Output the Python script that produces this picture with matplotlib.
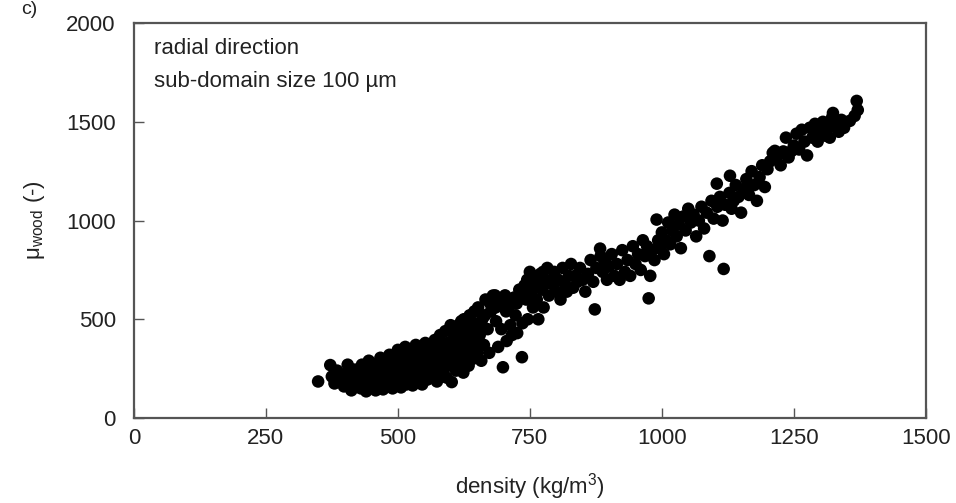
import matplotlib
matplotlib.use('Agg')
import matplotlib.pyplot as plt

plt.rcParams['font.family'] = ['Liberation Sans', 'DejaVu Sans']
plt.rcParams['mathtext.fontset'] = 'custom'
plt.rcParams['mathtext.rm'] = 'Liberation Sans'
plt.rcParams['mathtext.it'] = 'Liberation Sans:italic'

# densité (kg/m3) et mu_wood (-), par tranches de densité
density = [
    # 349-420
    349, 372, 375, 380, 385, 392, 398, 402, 405, 410, 412, 415, 418, 420,
    # 420-490
    425, 428, 430, 432, 435, 438, 440, 442, 445, 447, 450, 452, 455, 458,
    460, 462, 465, 467, 470, 472, 475, 477, 480, 482, 484, 486, 488, 490,
    # 490-560
    492, 494, 496, 498, 500, 502, 504, 506, 508, 510, 512, 514, 516, 518,
    520, 522, 524, 526, 528, 530, 532, 534, 536, 538, 540, 542, 544, 546,
    548, 550, 552, 554, 556, 558, 560,
    # 560-650
    562, 564, 566, 568, 570, 572, 574, 576, 578, 580, 582, 584, 586, 588,
    590, 592, 594, 596, 598, 600, 602, 604, 606, 608, 610, 612, 614, 616,
    618, 620, 622, 624, 626, 628, 630, 632, 634, 636, 638, 640, 642, 645,
    648, 650, 605, 615, 625, 635, 645,
    # 650-760
    652, 655, 658, 660, 663, 666, 670, 673, 676, 680, 684, 686, 690, 693,
    696, 699, 703, 706, 710, 713, 716, 720, 723, 726, 730, 735, 736, 740,
    743, 746, 750, 753, 756, 760, 655, 665, 675, 685, 695, 705, 715, 725,
    735, 745, 755,
    # 760-900
    763, 766, 770, 773, 776, 780, 783, 786, 790, 794, 796, 800, 804, 808,
    812, 816, 820, 824, 828, 832, 836, 840, 845, 850, 855, 860, 865, 870,
    873, 876, 883, 884, 888, 892, 896, 900, 765, 775,
    # 900-1050
    905, 910, 915, 920, 925, 930, 935, 940, 945, 950, 955, 960, 964, 968,
    972, 975, 978, 982, 986, 990, 993, 996, 1000, 1004, 1008, 1012, 1016,
    1020, 1024, 1028, 1032, 1036, 1040, 1045, 1050,
    # 1050-1200
    1055, 1060, 1065, 1070, 1075, 1080, 1085, 1090, 1094, 1098, 1104, 1105,
    1110, 1115, 1117, 1120, 1129, 1128, 1132, 1136, 1140, 1145, 1150, 1155,
    1160, 1165, 1170, 1175, 1180, 1185, 1190, 1195, 1200,
    # 1200-1375
    1205, 1210, 1214, 1220, 1225, 1230, 1235, 1240, 1246, 1250, 1255, 1260,
    1265, 1270, 1275, 1280, 1285, 1290, 1295, 1300, 1305, 1310, 1315, 1318,
    1322, 1324, 1330, 1335, 1340, 1345, 1356, 1365, 1369, 1371,
]

mu_wood = [
    # 349-420
    185, 268, 210, 175, 240, 195, 160, 225, 270, 180, 140, 205, 245, 160,
    # 420-490
    190, 230, 150, 270, 205, 170, 135, 250, 290, 215, 160, 185, 235, 140,
    275, 205, 170, 305, 250, 145, 225, 190, 280, 160, 320, 240, 200, 150,
    # 490-560
    260, 300, 175, 220, 345, 190, 270, 155, 240, 310, 205, 360, 170, 285,
    230, 195, 330, 260, 165, 300, 215, 370, 245, 185, 280, 340, 210, 170,
    305, 255, 380, 225, 195, 320, 270,
    # 560-650
    235, 350, 210, 300, 395, 255, 185, 330, 275, 420, 225, 360, 300, 250,
    440, 205, 380, 320, 270, 470, 182, 345, 400, 290, 240, 450, 370, 320,
    275, 490, 410, 230, 355, 300, 460, 390, 265, 520, 340, 430, 300, 480,
    380, 330, 430, 470, 500, 450, 540,
    # 650-760
    560, 420, 290, 500, 370, 600, 450, 330, 540, 620, 621, 490, 360, 580,
    450, 257, 621, 390, 560, 470, 420, 610, 520, 430, 650, 308, 480, 672,
    600, 500, 740, 640, 560, 680, 470, 520, 580, 560, 600, 540, 600, 580,
    620, 700, 720,
    # 760-900
    600, 500, 730, 650, 560, 700, 760, 620, 680, 687, 740, 640, 700, 600,
    760, 680, 640, 720, 780, 660, 720, 690, 760, 700, 640, 730, 800, 690,
    550, 760, 858, 820, 740, 790, 700, 770, 690, 740,
    # 900-1050
    830, 720, 780, 700, 850, 740, 800, 720, 870, 780, 830, 750, 900, 820,
    870, 606, 720, 850, 800, 1005, 900, 860, 940, 830, 900, 990, 880, 950,
    1030, 920, 980, 860, 1020, 950, 1060,
    # 1050-1200
    990, 1030, 920, 1000, 1070, 960, 1040, 820, 1100, 1010, 1187, 1070, 1120,
    1000, 755, 1080, 1227, 1140, 1060, 1100, 1180, 1120, 1040, 1160, 1210,
    1130, 1250, 1180, 1100, 1220, 1280, 1170, 1260,
    # 1200-1375
    1300, 1343, 1353, 1330, 1280, 1350, 1420, 1320, 1353, 1380, 1440, 1360,
    1460, 1400, 1330, 1470, 1420, 1490, 1400, 1450, 1500, 1430, 1470, 1420,
    1520, 1545, 1480, 1450, 1510, 1470, 1505, 1530, 1606, 1560,
]

fig = plt.figure(figsize=(9.56, 5.03), dpi=100)
ax = fig.add_axes([0.140, 0.169, 0.8285, 0.785])

ax.scatter(density, mu_wood, s=82, color='black', edgecolors='none', zorder=3)

ax.set_xlim(0, 1500)
ax.set_ylim(0, 2000)
ax.set_xticks([0, 250, 500, 750, 1000, 1250, 1500])
ax.set_yticks([0, 500, 1000, 1500, 2000])
ax.tick_params(direction='in', length=7, width=1, colors='#555555',
               labelcolor='#222222', labelsize=16)
ax.tick_params(axis='x', pad=7)
ax.tick_params(axis='y', pad=13)
for sp in ax.spines.values():
    sp.set_color('#555555')
    sp.set_linewidth(1.6)

ax.set_xlabel('density (kg/m$^3$)', fontsize=16, color='#222222', labelpad=16)
ax.set_ylabel('μ$_{\\mathrm{wood}}$ (-)', fontsize=16, color='#222222', labelpad=14)

ax.text(0.026, 0.935, 'radial direction', transform=ax.transAxes,
        fontsize=16, color='#222222', va='center')
ax.text(0.026, 0.852, 'sub-domain size 100 µm', transform=ax.transAxes,
        fontsize=16, color='#222222', va='center')

# étiquette de panneau en haut à gauche
fig.text(0.022, 0.998, 'c)', fontsize=14, color='#222222', va='top')

fig.savefig('out.png', dpi=100)
